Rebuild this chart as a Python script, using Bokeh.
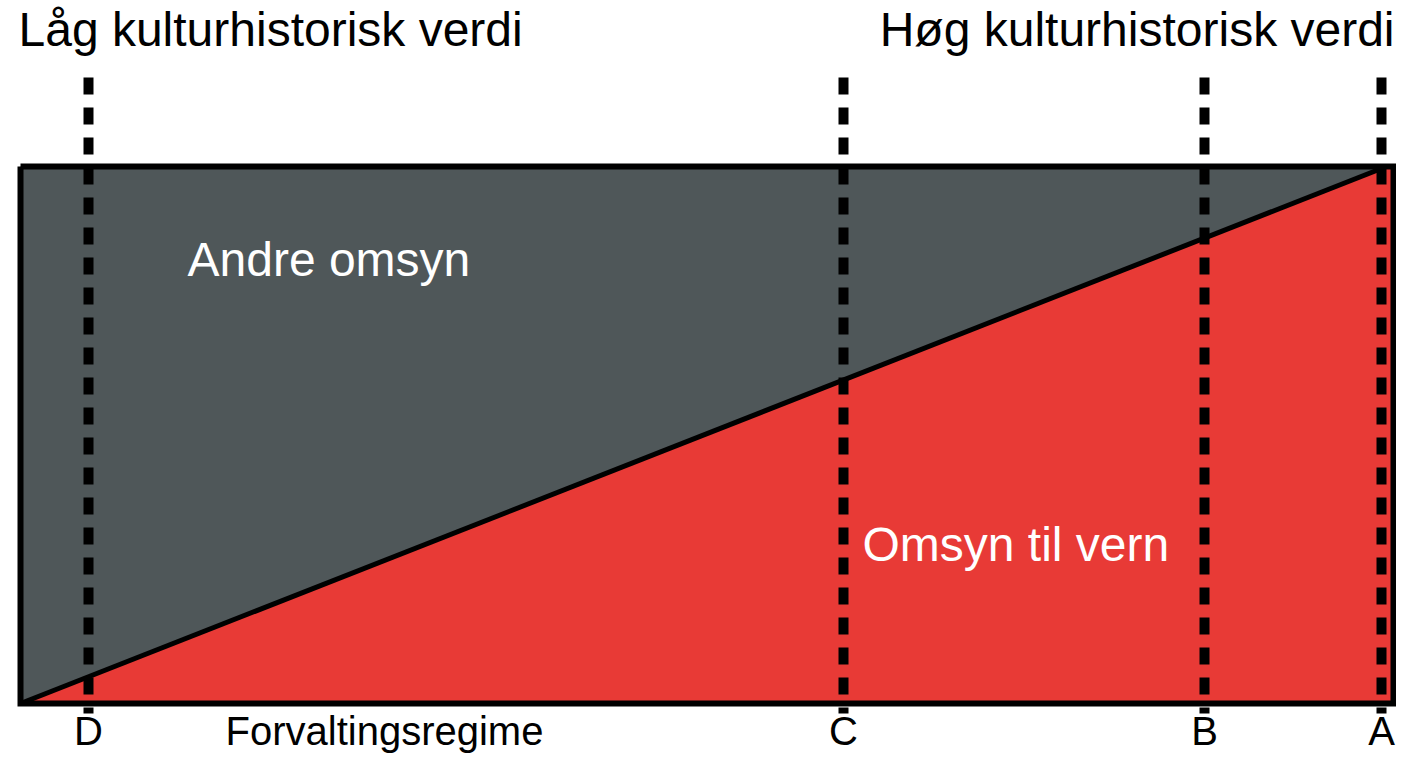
from bokeh.plotting import figure
from bokeh.models import Range1d
from bokeh.core.properties import value
from bokeh.embed import file_html
from bokeh.resources import INLINE

# ---- data ----
regimes = ["D", "C", "B", "A"]
regime_x = [88, 843, 1204, 1381]

box_left, box_right = 20, 1393
box_top, box_bottom = 166, 703

# diagonal: share "Omsyn til vern" grows from 0 at left edge to full at A
diag_x = [box_left, 1381]
diag_y = [box_bottom, 168]

area_labels = ["Andre omsyn", "Omsyn til vern"]
area_label_x = [187, 862]
area_label_y = [285, 570]

top_left_label = "Låg kulturhistorisk verdi"
top_right_label = "Høg kulturhistorisk verdi"
axis_label = "Forvaltingsregime"

GRAY = "#4f5759"
RED = "#e83a36"
FONT = "Liberation Sans"

W, H = 1396, 753
p = figure(width=W, height=H, output_backend="svg", toolbar_location=None,
           x_range=Range1d(0, W), y_range=Range1d(H, 0),
           min_border=0, outline_line_color=None)
p.axis.visible = False
p.grid.visible = False
p.background_fill_color = "white"
p.border_fill_color = "white"

# gray full rectangle
p.patch([box_left, box_right, box_right, box_left],
        [box_top, box_top, box_bottom, box_bottom],
        fill_color=GRAY, line_color=None)
# red area
p.patch([diag_x[0], diag_x[1], box_right, box_right],
        [diag_y[0], diag_y[1], box_top + 2, box_bottom],
        fill_color=RED, line_color=None)
# diagonal
p.line(diag_x, diag_y, line_color="black", line_width=5)

# dashed regime lines
for x in regime_x:
    p.line([x, x], [77, 713], line_color="black", line_width=10,
           line_dash="17 13", line_cap="butt")

# box outline
p.line([box_left, box_right, box_right, box_left, box_left],
       [box_top, box_top, box_bottom, box_bottom, box_top],
       line_color="black", line_width=6, line_join="miter")

# regime labels
p.text(x=regime_x, y=[752] * 4, text=regimes, text_font=value(FONT),
       text_font_size="40px", text_align="center", text_baseline="bottom",
       text_color="black")

# area labels
p.text(x=area_label_x, y=area_label_y, text=area_labels, text_font=value(FONT),
       text_font_size="48px", text_align="left", text_baseline="bottom",
       text_color="white")

# header labels
p.text(x=[18], y=[55], text=[top_left_label], text_font=value(FONT),
       text_font_size="48px", text_align="left", text_baseline="bottom",
       text_color="black")
p.text(x=[1394], y=[55], text=[top_right_label], text_font=value(FONT),
       text_font_size="48px", text_align="right", text_baseline="bottom",
       text_color="black")

# axis title
p.text(x=[225], y=[752], text=[axis_label], text_font=value(FONT),
       text_font_size="40px", text_align="left", text_baseline="bottom",
       text_color="black")

open("out.html", "w").write(file_html(p, INLINE))
